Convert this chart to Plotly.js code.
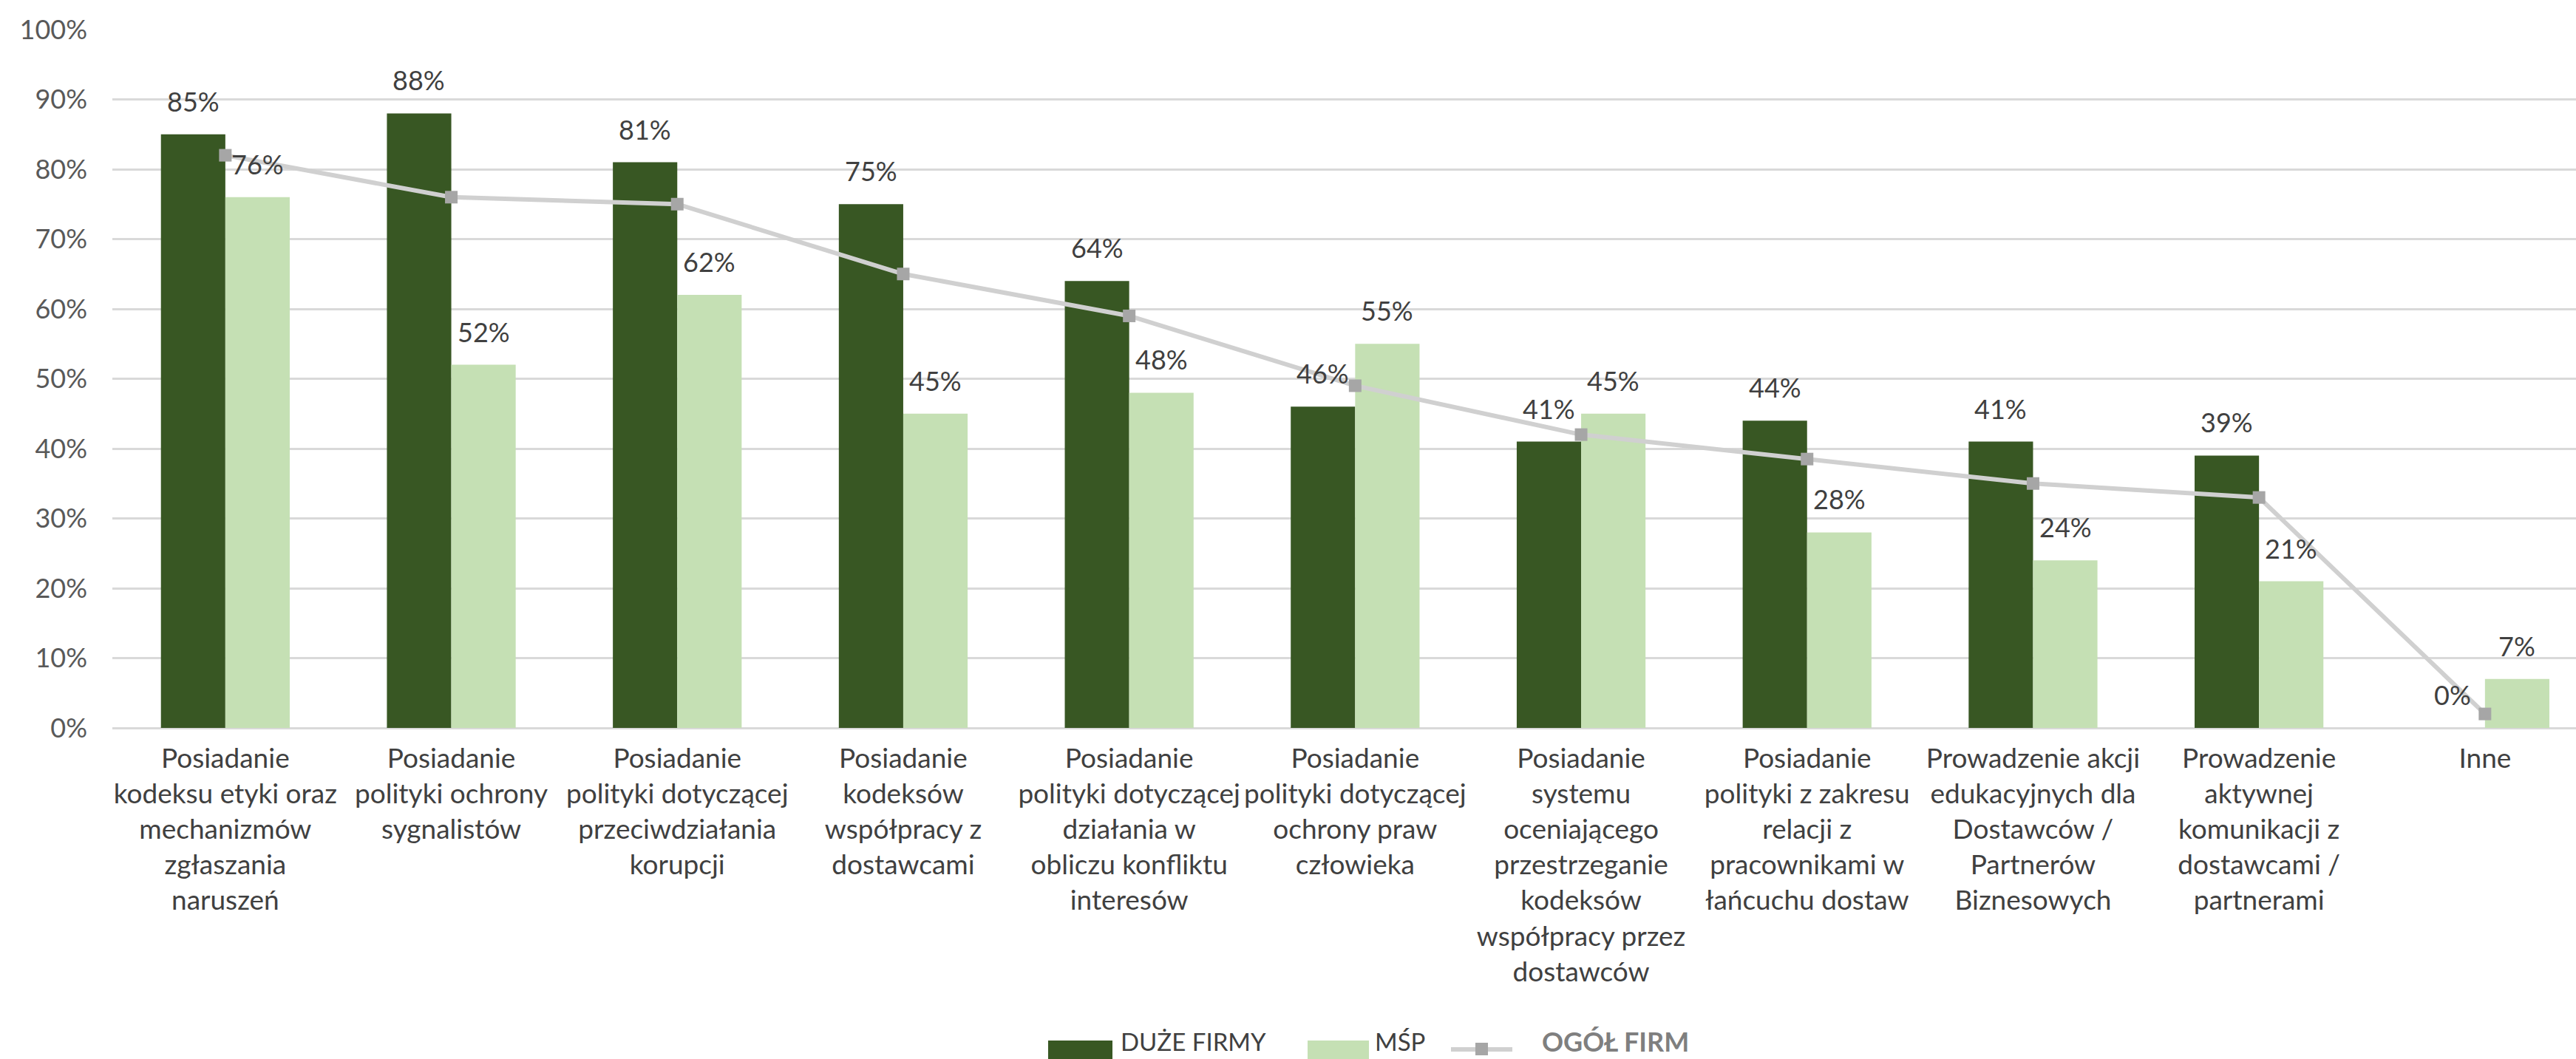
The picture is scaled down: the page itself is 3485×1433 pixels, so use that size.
<!DOCTYPE html>
<html>
<head>
<meta charset="utf-8">
<script src="https://cdn.plot.ly/plotly-3.0.1.min.js"></script>
<style>
  html, body { margin: 0; padding: 0; background: #ffffff; }
  #chart { width: 3485px; height: 1433px; }
</style>
</head>
<body>
<div id="chart"></div>
<script>
// ---- data ----
const categories = [
  "Posiadanie<br>kodeksu etyki oraz<br>mechanizmów<br>zgłaszania<br>naruszeń",
  "Posiadanie<br>polityki ochrony<br>sygnalistów",
  "Posiadanie<br>polityki dotyczącej<br>przeciwdziałania<br>korupcji",
  "Posiadanie<br>kodeksów<br>współpracy z<br>dostawcami",
  "Posiadanie<br>polityki dotyczącej<br>działania w<br>obliczu konfliktu<br>interesów",
  "Posiadanie<br>polityki dotyczącej<br>ochrony praw<br>człowieka",
  "Posiadanie<br>systemu<br>oceniającego<br>przestrzeganie<br>kodeksów<br>współpracy przez<br>dostawców",
  "Posiadanie<br>polityki z zakresu<br>relacji z<br>pracownikami w<br>łańcuchu dostaw",
  "Prowadzenie akcji<br>edukacyjnych dla<br>Dostawców /<br>Partnerów<br>Biznesowych",
  "Prowadzenie<br>aktywnej<br>komunikacji z<br>dostawcami /<br>partnerami",
  "Inne"
];
const duzeFirmy = [85, 88, 81, 75, 64, 46, 41, 44, 41, 39, 0];
const msp       = [76, 52, 62, 45, 48, 55, 45, 28, 24, 21, 7];
const ogolFirm  = [82, 76, 75, 65, 59, 49, 42, 38.5, 35, 33, 2];
const yTicks = [0, 10, 20, 30, 40, 50, 60, 70, 80, 90, 100];
const yTickLabels = yTicks.map(v => v + "%");

const seriesNames = ["DUŻE FIRMY", "MŚP", "OGÓŁ FIRM"];

// ---- styling ----
const W = 3485, H = 1433;
const M = { l: 152, r: 0, t: 40, b: 448 };
const plotW = W - M.l - M.r, plotH = H - M.t - M.b;
const catSpacing = 305.7;
const xMax = plotW / catSpacing - 0.5;
const bargap = 0.43;
const barW = (1 - bargap) / 2 * catSpacing;

const FONT = "Lato, 'Open Sans', 'Liberation Sans', sans-serif";
const DARK = "#385723", LIGHT = "#C5E0B4";
const LINE = "#d0d0d0", MARK = "#a6a6a6";
const TXT = "#404040";

const px2x = px => (px - M.l) / plotW;
const px2y = py => (H - M.b - py) / plotH;

const traces = [
  { type: "bar", name: seriesNames[0], x: categories, y: duzeFirmy,
    marker: { color: DARK }, hoverinfo: "skip", showlegend: false },
  { type: "bar", name: seriesNames[1], x: categories, y: msp,
    marker: { color: LIGHT }, hoverinfo: "skip", showlegend: false },
  { type: "scatter", mode: "lines+markers", name: seriesNames[2], x: categories, y: ogolFirm,
    line: { color: LINE, width: 6 },
    marker: { symbol: "square", size: 17, color: MARK },
    hoverinfo: "skip", showlegend: false }
];

const annotations = [];
categories.forEach((c, i) => {
  annotations.push({ x: c, y: duzeFirmy[i], xref: "x", yref: "y", text: duzeFirmy[i] + "%",
    showarrow: false, xshift: -barW / 2, yshift: 45, yanchor: "middle",
    font: { family: FONT, size: 36, color: TXT } });
  annotations.push({ x: c, y: msp[i], xref: "x", yref: "y", text: msp[i] + "%",
    showarrow: false, xshift: barW / 2, yshift: 45, yanchor: "middle",
    font: { family: FONT, size: 36, color: TXT } });
});

// custom legend
const legY = 1409;
const shapes = [
  { type: "rect", xref: "paper", yref: "paper", x0: px2x(1418), x1: px2x(1505), y0: px2y(1408), y1: px2y(1450),
    fillcolor: DARK, line: { width: 0 } },
  { type: "rect", xref: "paper", yref: "paper", x0: px2x(1769), x1: px2x(1852), y0: px2y(1408), y1: px2y(1450),
    fillcolor: LIGHT, line: { width: 0 } },
  { type: "line", xref: "paper", yref: "paper", x0: px2x(1963), x1: px2x(2046), y0: px2y(1420), y1: px2y(1420),
    line: { color: LINE, width: 6 } },
  { type: "rect", xref: "paper", yref: "paper", x0: px2x(1996), x1: px2x(2013), y0: px2y(1411), y1: px2y(1428),
    fillcolor: MARK, line: { width: 0 } }
];
annotations.push(
  { xref: "paper", yref: "paper", x: px2x(1514), y: px2y(legY), xanchor: "left", yanchor: "middle",
    text: seriesNames[0], showarrow: false, font: { family: FONT, size: 33, color: TXT } },
  { xref: "paper", yref: "paper", x: px2x(1858), y: px2y(legY), xanchor: "left", yanchor: "middle",
    text: seriesNames[1], showarrow: false, font: { family: FONT, size: 33, color: TXT } },
  { xref: "paper", yref: "paper", x: px2x(2084), y: px2y(legY), xanchor: "left", yanchor: "middle",
    text: "<b>" + seriesNames[2] + "</b>", showarrow: false, font: { family: FONT, size: 36, color: "#7f7f7f" } }
);

const layout = {
  width: W, height: H,
  margin: M,
  paper_bgcolor: "#ffffff", plot_bgcolor: "#ffffff",
  barmode: "group", bargap: bargap, bargroupgap: 0,
  showlegend: false,
  font: { family: FONT, color: TXT },
  xaxis: {
    type: "category", range: [-0.5, xMax], fixedrange: true,
    showgrid: false, zeroline: false, showline: false, ticks: "",
    tickfont: { family: FONT, size: 37, color: TXT },
    ticklabelstandoff: 16, automargin: false
  },
  yaxis: {
    range: [0, 100], tickvals: yTicks, ticktext: yTickLabels, fixedrange: true,
    showgrid: true, gridcolor: "#d9d9d9", gridwidth: 3,
    zeroline: true, zerolinecolor: "#d9d9d9", zerolinewidth: 3,
    showline: false, ticks: "",
    tickfont: { family: FONT, size: 36, color: "#595959" },
    ticklabelstandoff: 33, automargin: false
  },
  shapes: shapes,
  annotations: annotations
};

Plotly.newPlot("chart", traces, layout, { staticPlot: true, displayModeBar: false });
</script>
</body>
</html>
